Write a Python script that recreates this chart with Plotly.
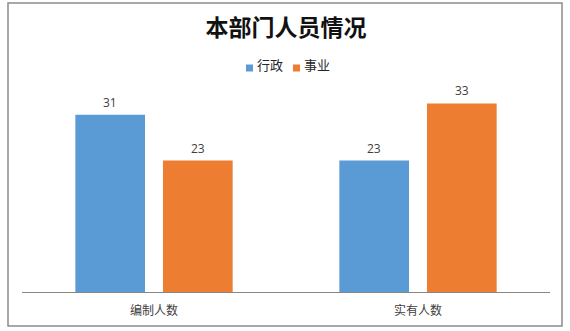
import plotly.graph_objects as go

# Staffing headcount by category
categories = ["编制人数", "实有人数"]
series_names = ["行政", "事业"]
admin_counts = [31, 23]      # 行政
public_counts = [23, 33]     # 事业
series_values = [admin_counts, public_counts]
series_colors = ["#5B9BD5", "#ED7D31"]

# plot-area geometry in pixels, used to place paper-referenced decorations
PLOT_L, PLOT_R, PLOT_T, PLOT_B = 22, 550, 92, 292
W, H = 570, 331


def px_x(px):
    return (px - PLOT_L) / (PLOT_R - PLOT_L)


def px_y(py):
    return (PLOT_B - py) / (PLOT_B - PLOT_T)


fig = go.Figure()
for i, (name, vals, color) in enumerate(zip(series_names, series_values, series_colors)):
    fig.add_trace(go.Bar(
        x=categories, y=vals, name=name,
        marker=dict(color=color, line=dict(width=0)),
        offsetgroup=str(i),
        showlegend=False,
    ))

# value labels above each bar
annotations = []
for i, vals in enumerate(series_values):
    for cat, v in zip(categories, vals):
        annotations.append(dict(
            x=cat, y=v, xref="x", yref="y", text=str(v), showarrow=False,
            xshift=(-44 if i == 0 else 44), yshift=12.5, yanchor="middle",
            font=dict(family="Open Sans, DejaVu Sans, sans-serif", size=12, color="#404040"),
        ))

# legend: small colour square followed by series name
shapes = []
legend_x = [246, 293]
for lx, name, color in zip(legend_x, series_names, series_colors):
    shapes.append(dict(
        type="rect", xref="paper", yref="paper",
        x0=px_x(lx), x1=px_x(lx + 7), y0=px_y(71.5), y1=px_y(64.5),
        line=dict(width=0), fillcolor=color,
    ))
    annotations.append(dict(
        x=px_x(lx + 9), y=px_y(64), xref="paper", yref="paper",
        text=name, showarrow=False, xanchor="left", yanchor="middle",
        font=dict(family="Noto Sans CJK SC", size=13, color="#262626"),
    ))

# outer chart frame
shapes.append(dict(
    type="rect", xref="paper", yref="paper",
    x0=px_x(8), x1=px_x(562), y0=px_y(326), y1=px_y(3),
    line=dict(color="#8C8C8C", width=1.5), fillcolor="rgba(0,0,0,0)",
    layer="below",
))

fig.update_layout(
    width=W, height=H,
    paper_bgcolor="white", plot_bgcolor="white",
    margin=dict(l=PLOT_L, r=W - PLOT_R, t=PLOT_T, b=H - PLOT_B),
    barmode="group", bargap=0.336, bargroupgap=0.205,
    title=dict(
        text="<b>本部门人员情况</b>",
        font=dict(family="Noto Sans CJK SC", size=23, color="#111111"),
        x=0.5, xanchor="center", xref="paper",
        y=1 - 28 / H, yanchor="middle", yref="container",
    ),
    showlegend=False,
    annotations=annotations,
    shapes=shapes,
)

fig.update_xaxes(
    showline=True, linecolor="#868686", linewidth=1,
    showgrid=False, ticks="", ticklabelstandoff=8,
    tickfont=dict(family="Noto Sans CJK SC", size=12, color="#404040"),
)
fig.update_yaxes(
    range=[0, 35], showgrid=False, showline=False, zeroline=False,
    showticklabels=False, ticks="",
)

fig.write_html("out.html")
